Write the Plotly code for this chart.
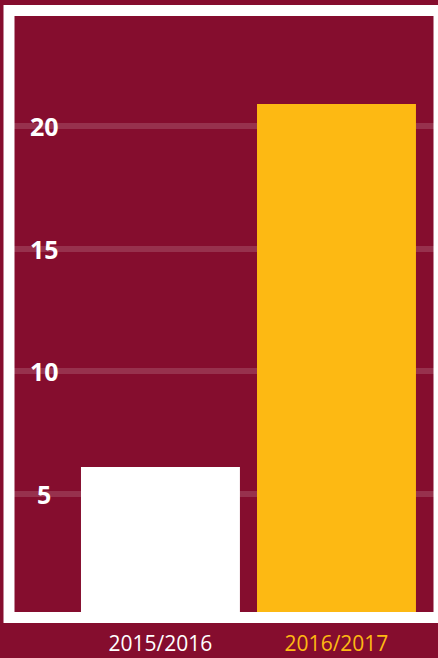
import plotly.graph_objects as go

categories = ["2015/2016", "2016/2017"]
values = [6.1, 20.9]
bar_colors = ["#FFFFFF", "#FDB913"]
label_colors = ["#FFFFFF", "#FDB913"]
y_ticks = [5, 10, 15, 20]

BG = "rgb(133,13,46)"
W, H = 438, 658
L, R, T, B = 14, 4, 16, 46
pw, ph = W - L - R, H - T - B

fig = go.Figure(go.Bar(
    x=categories, y=values, marker=dict(color=bar_colors, line=dict(width=0)),
    width=0.903, hoverinfo="skip"))

ticktext = [f"<span style='color:{c}'>{t}</span>" for t, c in zip(categories, label_colors)]

fig.update_layout(
    width=W, height=H,
    margin=dict(l=L, r=R, t=T, b=B, pad=0, autoexpand=False),
    paper_bgcolor=BG, plot_bgcolor=BG,
    showlegend=False,
    font=dict(family="Open Sans", color="white"),
    xaxis=dict(range=[-0.832, 1.554], tickvals=categories, ticktext=ticktext,
               showgrid=False, zeroline=False, showline=False, automargin=False,
               ticks="outside", ticklen=13, tickcolor="rgba(0,0,0,0)",
               tickfont=dict(size=21, family="Open Sans")),
    yaxis=dict(range=[0.19, 24.49], tickvals=y_ticks, showticklabels=False,
               showgrid=True, gridcolor="rgba(255,255,255,0.15)", gridwidth=6,
               zeroline=False, showline=False, automargin=False),
)

for v in y_ticks:
    fig.add_annotation(x=(44 - L) / pw, xref="paper", y=v, yref="y",
                       text=f"<b>{v}</b>", showarrow=False, xanchor="center", yanchor="middle",
                       font=dict(size=25, family="Open Sans", color="white"))

fig.add_shape(type="rect", xref="paper", yref="paper",
              x0=(9 - L) / pw, x1=(439 - L) / pw,
              y0=(H - B - 617.5) / ph, y1=(H - B - 10.5) / ph,
              line=dict(color="white", width=11), fillcolor="rgba(0,0,0,0)", layer="above")

fig.write_html("out.html", config={"displayModeBar": False})
